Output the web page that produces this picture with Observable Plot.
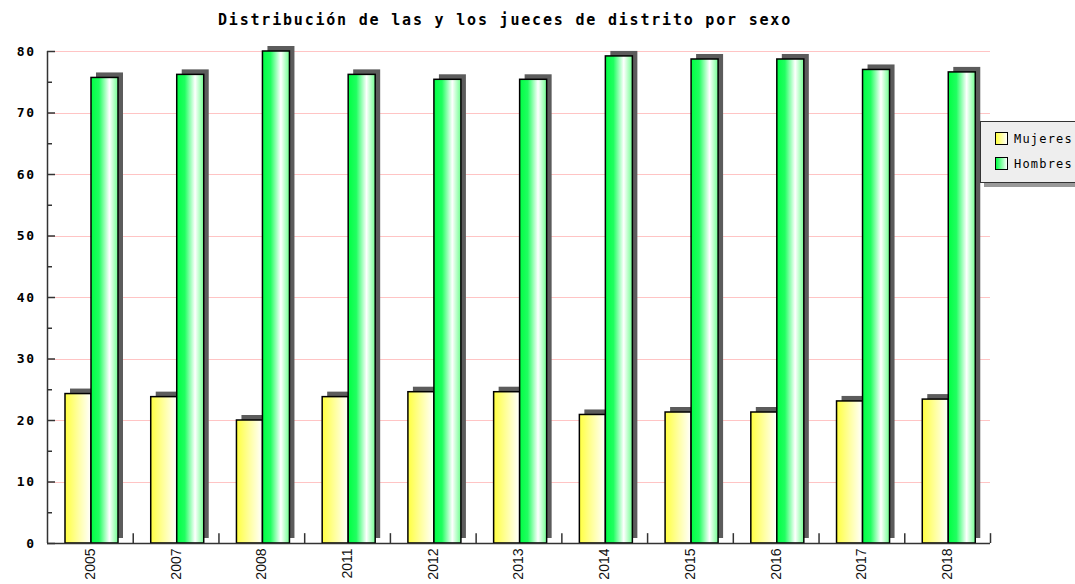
<!DOCTYPE html>
<html>
<head>
<meta charset="utf-8">
<script src="https://cdn.jsdelivr.net/npm/d3@7"></script>
<script src="https://cdn.jsdelivr.net/npm/@observablehq/plot@0.6"></script>
<style>
  html, body { margin: 0; padding: 0; background: #fff; overflow: hidden; }
  #wrap { position: relative; width: 1075px; height: 584px; }
  #title { position: absolute; top: 11px; left: 0; width: 1010px; text-align: center;
    font: bold 15px "DejaVu Sans Mono", monospace; letter-spacing: 1.8px; color: #000; }
  #legend { position: absolute; left: 980px; top: 121px; width: 120px; height: 60px;
    background: #eeeeee; border: 1px solid #333; box-shadow: 4px 4px 0 #999; }
  .item { position: absolute; left: 14px; font: 12px "DejaVu Sans Mono", monospace; letter-spacing: 1.2px; color: #000; }
  .sw { display: inline-block; width: 11px; height: 11px; border: 1px solid #000; vertical-align: -2px; margin-right: 6px; }
</style>
</head>
<body>
<div id="wrap">
  <div id="title">Distribución de las y los jueces de distrito por sexo</div>
  <div id="chart"></div>
  <div id="legend">
    <div class="item" style="top:10px"><span class="sw" style="background:linear-gradient(to right,#ffff40,#ffffff)"></span>Mujeres</div>
    <div class="item" style="top:35px"><span class="sw" style="background:linear-gradient(to right,#00ff44,#ffffff)"></span>Hombres</div>
  </div>
</div>
<script>
const years = ["2005","2007","2008","2011","2012","2013","2014","2015","2016","2017","2018"];
const mujeres = [24.3, 23.8, 20.0, 23.8, 24.6, 24.6, 20.9, 21.3, 21.3, 23.1, 23.4];
const hombres = [75.7, 76.2, 80.0, 76.2, 75.4, 75.4, 79.2, 78.7, 78.7, 77.0, 76.6];
const majorTicks = [0, 10, 20, 30, 40, 50, 60, 70, 80];
const minorTicks = [5, 15, 25, 35, 45, 55, 65, 75];
const gridTicks = [10, 20, 30, 40, 50, 60, 70, 80];

const dataM = years.map((y, i) => ({year: y, value: mujeres[i]}));
const dataH = years.map((y, i) => ({year: y, value: hombres[i]}));

const W = 1075, H = 584, mL = 47, mR = 85, mT = 51, mB = 41;
const innerW = W - mL - mR;
const step = innerW / years.length;

const plot = Plot.plot({
  width: W, height: H,
  marginLeft: mL, marginRight: mR, marginTop: mT, marginBottom: mB,
  x: {domain: years, padding: 0, round: false, axis: null},
  y: {domain: [0, 80], axis: null},
  style: {background: "transparent", overflow: "visible"},
  marks: [
    Plot.ruleY(gridTicks, {y: d => d, stroke: "#ffc4c4", strokeWidth: 1, shapeRendering: "crispEdges"}),
    // shadows
    Plot.barY(dataM, {x: "year", y: "value", fill: "#5c5c5c", insetLeft: 18, insetRight: step - 44, dx: 5, dy: -5}),
    Plot.barY(dataH, {x: "year", y: "value", fill: "#5c5c5c", insetLeft: 44, insetRight: step - 71, dx: 5, dy: -5}),
    // bars
    Plot.barY(dataM, {x: "year", y: "value", fill: "url(#gradY)", stroke: "#000", strokeWidth: 1.5, insetLeft: 18, insetRight: step - 44}),
    Plot.barY(dataH, {x: "year", y: "value", fill: "url(#gradG)", stroke: "#000", strokeWidth: 1.5, insetLeft: 44, insetRight: step - 71}),
    // axes
    Plot.ruleY([0], {stroke: "#333", strokeWidth: 1.5}),
    Plot.ruleX([years[0]], {dx: -step / 2, y1: 0, y2: 80, stroke: "#333", strokeWidth: 1.5}),
    Plot.ruleX(years, {x: d => d, dx: step / 2, y1: 0, y2: 1.6, stroke: "#333", strokeWidth: 1.5}),
    Plot.ruleY(majorTicks, {y: d => d, insetRight: innerW - 8, stroke: "#333", strokeWidth: 1.5}),
    Plot.ruleY(minorTicks, {y: d => d, insetRight: innerW - 5, stroke: "#333", strokeWidth: 1.5}),
    Plot.text(majorTicks, {y: d => d, text: d => String(d), frameAnchor: "left", dx: -12, textAnchor: "end",
      fontFamily: "DejaVu Sans Mono", fontWeight: "bold", fontSize: 13, fill: "#000"}),
    Plot.text(years, {x: d => d, y: 0, text: d => d, rotate: -90, textAnchor: "end", lineAnchor: "middle", dy: 5,
      fontFamily: "Liberation Sans", fontSize: 14, fill: "#111"})
  ]
});

const svg = d3.select(plot);
const defs = svg.insert("defs", ":first-child");
const gy = defs.append("linearGradient").attr("id", "gradY").attr("x1", "0").attr("x2", "1").attr("y1", "0").attr("y2", "0");
gy.append("stop").attr("offset", "0%").attr("stop-color", "#ffff40");
gy.append("stop").attr("offset", "100%").attr("stop-color", "#ffffff");
const gg = defs.append("linearGradient").attr("id", "gradG").attr("x1", "0").attr("x2", "1").attr("y1", "0").attr("y2", "0");
gg.append("stop").attr("offset", "0%").attr("stop-color", "#00ff44");
gg.append("stop").attr("offset", "30%").attr("stop-color", "#20ff60");
gg.append("stop").attr("offset", "68%").attr("stop-color", "#ffffff");
gg.append("stop").attr("offset", "100%").attr("stop-color", "#70ff90");

svg.selectAll("g[aria-label='text'] text").filter(function() { return /^\d{1,2}$/.test(this.textContent); }).style("letter-spacing", "1.5px");

document.getElementById("chart").appendChild(plot);
</script>
</body>
</html>
